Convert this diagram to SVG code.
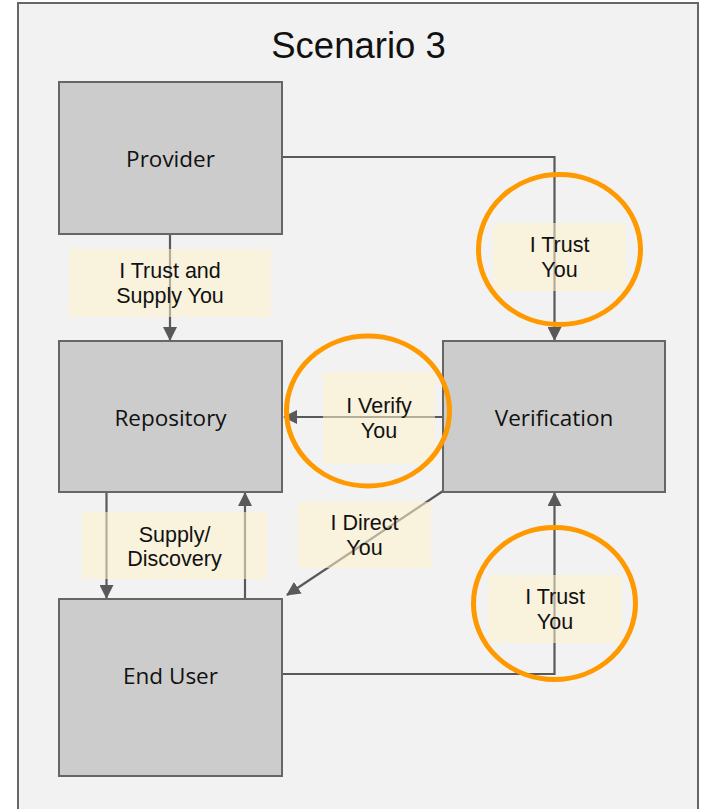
<svg xmlns="http://www.w3.org/2000/svg" width="702" height="809" viewBox="0 0 702 809">
  <defs>
    <marker id="arrow" viewBox="0 0 14 14" refX="13" refY="7" markerWidth="14" markerHeight="14" markerUnits="userSpaceOnUse" orient="auto">
      <path d="M0,0 L14,7 L0,14 Z" fill="#595959"/>
    </marker>
    <style>
      .frame { fill: #f2f2f2; stroke: #666666; stroke-width: 2; }
      .node rect { fill: #cccccc; stroke: #666666; stroke-width: 2; }
      .node text { font-family: "Open Sans", "Liberation Sans", sans-serif; font-size: 22.5px; fill: #111111; text-anchor: middle; }
      .title { font-family: "Liberation Sans", Arial, sans-serif; font-size: 36.5px; fill: #111111; text-anchor: middle; }
      .edge { fill: none; stroke: #595959; stroke-width: 2.2; marker-end: url(#arrow); }
      .label rect { fill: #fff2cc; fill-opacity: 0.55; }
      .label text { font-family: "Liberation Sans", Arial, sans-serif; font-size: 21.5px; fill: #111111; text-anchor: middle; }
      .ring { fill: none; stroke: #ff9900; stroke-width: 5; }
    </style>
  </defs>

  <!-- outer frame -->
  <rect class="frame" x="18" y="3" width="680" height="830"/>
  <text class="title" x="358.5" y="58">Scenario 3</text>

  <!-- connectors -->
  <g id="connectors">
    <path class="edge" d="M170,234 L170,340"/>
    <path class="edge" d="M282,157 L554.5,157 L554.5,340"/>
    <path class="edge" d="M443,417 L284,417"/>
    <path class="edge" d="M106.5,492 L106.5,598"/>
    <path class="edge" d="M245,599 L245,493"/>
    <path class="edge" d="M443,491 L287,595"/>
    <path class="edge" d="M282,674 L554.5,674 L554.5,493"/>
  </g>

  <!-- nodes -->
  <g id="provider" class="node">
    <rect x="59" y="82" width="223" height="152"/>
    <text x="170.5" y="167">Provider</text>
  </g>
  <g id="repository" class="node">
    <rect x="59" y="341" width="223" height="151"/>
    <text x="170.5" y="426">Repository</text>
  </g>
  <g id="verification" class="node">
    <rect x="443" y="341" width="222" height="151"/>
    <text x="554" y="426">Verification</text>
  </g>
  <g id="end-user" class="node">
    <rect x="59" y="599" width="223" height="177"/>
    <text x="170.5" y="684">End User</text>
  </g>

  <!-- connector labels -->
  <g id="label-trust-supply" class="label">
    <rect x="69" y="249" width="202" height="68"/>
    <text x="170" y="278">I Trust and</text>
    <text x="170" y="303">Supply You</text>
  </g>
  <g id="label-trust-top" class="label">
    <rect x="493" y="223" width="133" height="68"/>
    <text x="559.5" y="252">I Trust</text>
    <text x="559.5" y="277">You</text>
  </g>
  <g id="label-verify" class="label">
    <rect x="323" y="372" width="112" height="92"/>
    <text x="379" y="413">I Verify</text>
    <text x="379" y="438">You</text>
  </g>
  <g id="label-supply-discovery" class="label">
    <rect x="82" y="512" width="185" height="67"/>
    <text x="174.5" y="542">Supply/</text>
    <text x="174.5" y="566">Discovery</text>
  </g>
  <g id="label-direct" class="label">
    <rect x="298" y="502" width="133" height="66"/>
    <text x="364.5" y="530">I Direct</text>
    <text x="364.5" y="555">You</text>
  </g>
  <g id="label-trust-bottom" class="label">
    <rect x="488" y="575" width="134" height="68"/>
    <text x="555" y="604">I Trust</text>
    <text x="555" y="629">You</text>
  </g>

  <!-- highlight rings -->
  <g id="highlights">
    <ellipse class="ring" cx="559.5" cy="249.5" rx="81" ry="75"/>
    <ellipse class="ring" cx="368" cy="411" rx="81.5" ry="75"/>
    <ellipse class="ring" cx="554.5" cy="603.5" rx="81" ry="76"/>
  </g>
</svg>
